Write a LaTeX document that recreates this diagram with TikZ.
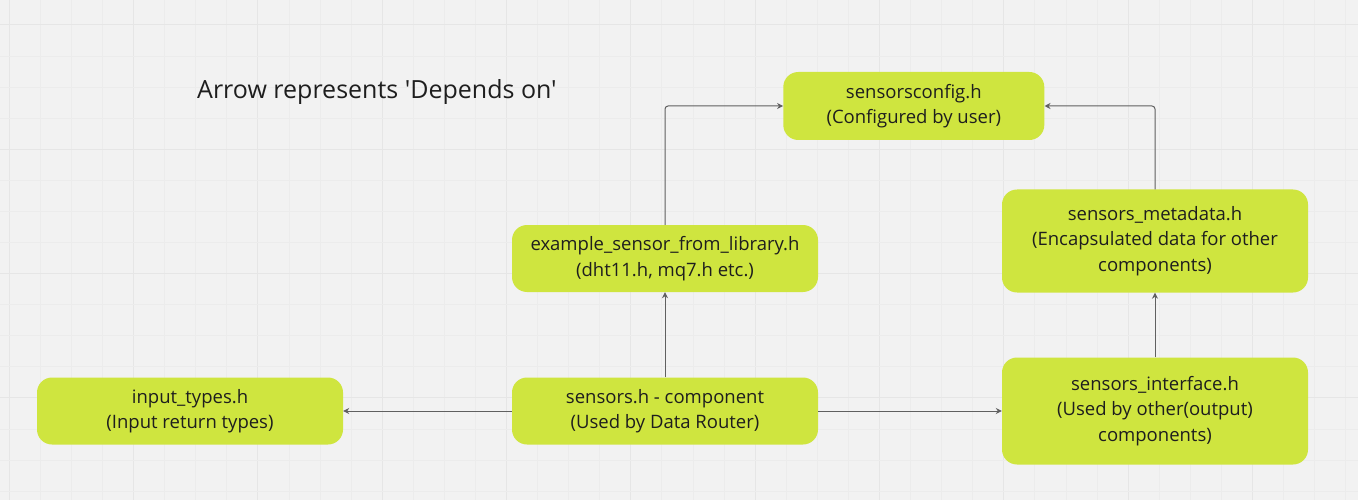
\documentclass[tikz,border=0pt]{standalone}
\usepackage{fontspec}
\setmainfont{Open Sans}
\newfontfamily\plainfont{Open Sans}
\usetikzlibrary{arrows.meta}
\definecolor{bgc}{HTML}{F2F2F2}
\definecolor{gridminor}{HTML}{ECECEC}
\definecolor{gridmajor}{HTML}{E6E6E6}
\definecolor{boxc}{HTML}{CFE53F}
\definecolor{txtc}{HTML}{1E1E1E}
\definecolor{linec}{HTML}{606060}
\tikzset{
  box/.style={draw=none, fill=boxc, rounded corners=15pt, align=center,
    text=txtc, font=\fontsize{18.5}{25.5}\selectfont, inner sep=0pt},
  dep/.style={draw=linec, line width=1pt, rounded corners=3pt,
    -{Stealth[length=6pt,width=6pt]}},
}
\begin{document}
\begin{tikzpicture}[x=1pt,y=-1pt]
\fill[bgc] (0,0) rectangle (1358,500);
\useasboundingbox (0,0) rectangle (1358,500);
% grid
\foreach \k in {0,...,43} {
  \pgfmathsetmacro{\xx}{9.3+31.08*\k}
  \pgfmathtruncatemacro{\mm}{mod(\k,4)}
  \ifnum\mm=0
    \draw[gridmajor, line width=1pt] (\xx,0) -- (\xx,500);
  \else
    \draw[gridminor, line width=1pt] (\xx,0) -- (\xx,500);
  \fi
}
\foreach \k in {0,...,15} {
  \pgfmathsetmacro{\yy}{25+31.08*\k}
  \pgfmathtruncatemacro{\mm}{mod(\k,4)}
  \ifnum\mm=0
    \draw[gridmajor, line width=1pt] (0,\yy) -- (1358,\yy);
  \else
    \draw[gridminor, line width=1pt] (0,\yy) -- (1358,\yy);
  \fi
}
% title
\node[text=txtc, font=\plainfont\fontsize{25}{30}\selectfont, anchor=base west, inner sep=0pt] (title) at (197,98.3) {Arrow represents 'Depends on'};
% nodes
\node[box, minimum width=306pt, minimum height=67pt] (input) at (190,411) {input\_types.h\\(Input return types)};
\node[box, minimum width=306pt, minimum height=67pt] (sensors) at (665,411) {sensors.h - component\\(Used by Data Router)};
\node[box, minimum width=306pt, minimum height=107pt] (iface) at (1155,411) {sensors\_interface.h\\(Used by other(output)\\components)};
\node[box, minimum width=306pt, minimum height=103pt] (meta) at (1155,241) {sensors\_metadata.h\\(Encapsulated data for other\\components)};
\node[box, minimum width=306pt, minimum height=67pt] (example) at (665,258.5) {example\_sensor\_from\_library.h\\(dht11.h, mq7.h etc.)};
\node[box, minimum width=261pt, minimum height=68pt] (config) at (913.8,106) {sensorsconfig.h\\(Configured by user)};
% connectors
\draw[dep] (sensors.west) -- (input.east);
\draw[dep] (sensors.east) -- (iface.west);
\draw[dep] (sensors.north) -- (example.south);
\draw[dep] (example.north) |- (config.west);
\draw[dep] (iface.north) -- (meta.south);
\draw[dep] (meta.north) |- (config.east);
\end{tikzpicture}
\end{document}
